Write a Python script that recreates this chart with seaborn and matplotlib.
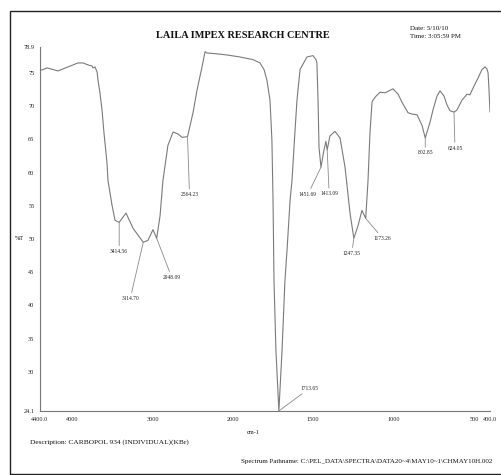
import numpy as np
import pandas as pd
import matplotlib
matplotlib.use("Agg")
import matplotlib.pyplot as plt
from matplotlib.patches import Rectangle
import seaborn as sns

# ---- data ----
wavenumber = [4400, 4375, 4312, 4176, 4052, 3927, 3865, 3802, 3753, 3740, 3716, 3690, 3678,
              3654, 3628, 3604, 3566, 3554,
              3504, 3466, 3414.56, 3330, 3242, 3114.70, 3056, 2994, 2948.09, 2906, 2870,
              2808, 2744, 2682, 2632, 2564.23, 2496, 2446, 2384, 2346, 2322, 2222, 2072,
              1956, 1875, 1831, 1806, 1788, 1769, 1757, 1750, 1744, 1732, 1713.65, 1694,
              1676, 1663, 1644, 1632, 1613, 1601, 1582, 1539, 1501, 1483, 1477, 1470,
              1464, 1451.69, 1433, 1421, 1413.09, 1396, 1365, 1333, 1302, 1271, 1247.35,
              1221, 1197, 1173.26, 1159, 1147, 1134, 1128, 1109, 1084, 1053, 1004, 972,
              948, 910, 885, 854, 823, 802.85, 773, 755, 730, 711, 686, 668, 649, 624.05,
              606, 574, 543, 525, 500, 475, 450, 431, 419, 412, 406, 400]
transmittance = [75.4, 75.45, 75.75, 75.3, 75.9, 76.5, 76.5, 76.2, 76.05, 75.75, 75.9, 75.15, 73.9,
                 72.0, 69.4, 66.0, 61.4, 58.8,
                 55.1, 52.8, 52.5, 53.9, 51.6, 49.5, 49.8, 51.4, 50.1, 53.5, 58.8,
                 64.1, 66.1, 65.8, 65.3, 65.4, 69.0, 72.4, 75.9, 78.2, 78.0, 77.9, 77.7,
                 77.4, 77.0, 76.5, 75.5, 73.9, 70.9, 64.9, 55.8, 43.7, 33.2, 24.1, 33.2,
                 43.7, 48.3, 55.8, 58.8, 66.4, 70.9, 75.5, 77.4, 77.6, 77.0, 76.5, 70.9,
                 63.8, 60.8, 63.4, 64.7, 63.4, 65.5, 66.2, 65.2, 60.8, 53.9, 50.1,
                 52.0, 54.3, 53.1, 58.8, 65.9, 70.6, 70.9, 71.5, 72.1, 72.0, 72.6, 71.8,
                 70.6, 69.0, 68.8, 68.7, 67.1, 65.2, 67.6, 69.4, 71.5, 72.3, 71.5, 70.2, 69.3, 69.1,
                 69.4, 70.9, 71.8, 71.7, 73.0, 74.2, 75.5, 75.9, 75.6, 75.0, 72.4, 69.1]

peak_wn = [3414.56, 3114.70, 2948.09, 2564.23, 1713.65, 1451.69, 1413.09, 1247.35, 1173.26, 802.85, 624.05]
peak_T = [52.5, 49.5, 50.1, 65.4, 24.1, 60.8, 63.4, 50.1, 53.1, 65.2, 69.1]
peak_labels = ["3414.56", "3114.70", "2948.09", "2564.23", "1713.65", "1451.69",
               "1413.09", "1247.35", "1173.26", "802.85", "624.05"]

x_ticks = [4400, 4000, 3000, 2000, 1500, 1000, 500, 400]
x_ticklabels = ["4400.0", "4000", "3000", "2000", "1500", "1000", "500", "400.0"]
y_ticks = [24.1, 30, 35, 40, 45, 50, 55, 60, 65, 70, 75, 78.9]
y_ticklabels = ["24.1", "30", "35", "40", "45", "50", "55", "60", "65", "70", "75", "78.9"]

# label offsets in pixels (dx right, dy down) from peak to label centre
label_offsets_px = [(0, 29), (-13, 56), (15, 39), (2, 58), (31, -23), (-13, 27),
                    (2, 44), (-2, 15), (17, 20), (0, 15), (1, 36)]

# ---- style ----
sns.set_style("white")
plt.rcParams['font.family'] = ['Liberation Serif', 'DejaVu Serif']

W, H = 502, 475
fig = plt.figure(figsize=(W / 100, H / 100), dpi=100)
fig.patch.set_facecolor("white")

ax = fig.add_axes([40 / W, (H - 411) / H, 450 / W, (411 - 47) / H])
ax.set_facecolor("white")

def fwd(x):
    x = np.asarray(x, dtype=float)
    return np.where(x > 2000, 2000 + (x - 2000) / 2.0, x)

def inv(u):
    u = np.asarray(u, dtype=float)
    return np.where(u > 2000, 2000 + (u - 2000) * 2.0, u)

ax.set_xscale('function', functions=(fwd, inv))

df = pd.DataFrame({"wn": wavenumber, "T": transmittance})
line_color = "#7a7a7a"
sns.lineplot(data=df, x="wn", y="T", ax=ax, color=line_color, linewidth=0.8,
             estimator=None, sort=False)

ax.set_xlim(4400, 400)
ax.set_ylim(24.1, 78.9)
ax.set_xticks(x_ticks)
ax.set_xticklabels(x_ticklabels)
ax.set_yticks(y_ticks)
ax.set_yticklabels(y_ticklabels)
ax.minorticks_off()
ax.set_xlabel("")
ax.set_ylabel("")

for s in ["top", "right"]:
    ax.spines[s].set_visible(False)
for s in ["left", "bottom"]:
    ax.spines[s].set_color("#777777")
    ax.spines[s].set_linewidth(0.8)

ax.tick_params(axis="x", direction="in", length=3, width=0.6, color="#777777",
               labelsize=4.5, pad=4, labelcolor="#222222")
ax.tick_params(axis="y", direction="out", length=2, width=0.6, color="#777777",
               labelsize=4.5, pad=2, labelcolor="#222222")

# peak annotations
for wn, t, lab, (dx, dy) in zip(peak_wn, peak_T, peak_labels, label_offsets_px):
    ax.annotate(lab, xy=(wn, t), xytext=(dx * 0.72, -dy * 0.72), textcoords="offset points",
                ha="center", va="center", fontsize=4, color="#222222",
                arrowprops=dict(arrowstyle="-", color="#8a8a8a", lw=0.6,
                                shrinkA=0, shrinkB=0))

def ft(x, y, s, **kw):
    fig.text(x / W, 1 - y / H, s, **kw)

ft(243, 36, "LAILA IMPEX RESEARCH CENTRE", ha="center", va="center",
   fontsize=7.4, fontweight="bold", color="#111111")
ft(410, 29, "Date: 5/10/10", ha="left", va="center", fontsize=5, color="#111111")
ft(410, 37, "Time: 3:05:59 PM", ha="left", va="center", fontsize=5, color="#111111")
ft(19, 238, "%T", ha="center", va="center", fontsize=4.5, color="#111111")
ft(253, 432, "cm-1", ha="center", va="center", fontsize=4.5, color="#111111")
ft(30, 442, "Description: CARBOPOL 934 (INDIVIDUAL)(KBr)", ha="left", va="center",
   fontsize=5.3, color="#111111")
ft(492, 462, r"Spectrum Pathname: C:\PEL_DATA\SPECTRA\DATA20~4\MAY10~1\CHMAY10H.002",
   ha="right", va="center", fontsize=5, color="#111111")

fig.patches.append(Rectangle((10.5 / W, 1 - 474 / H), 1.2, (474 - 11) / H,
                             transform=fig.transFigure, fill=False,
                             edgecolor="#222222", linewidth=1.0))

fig.savefig("out.png", dpi=100)
